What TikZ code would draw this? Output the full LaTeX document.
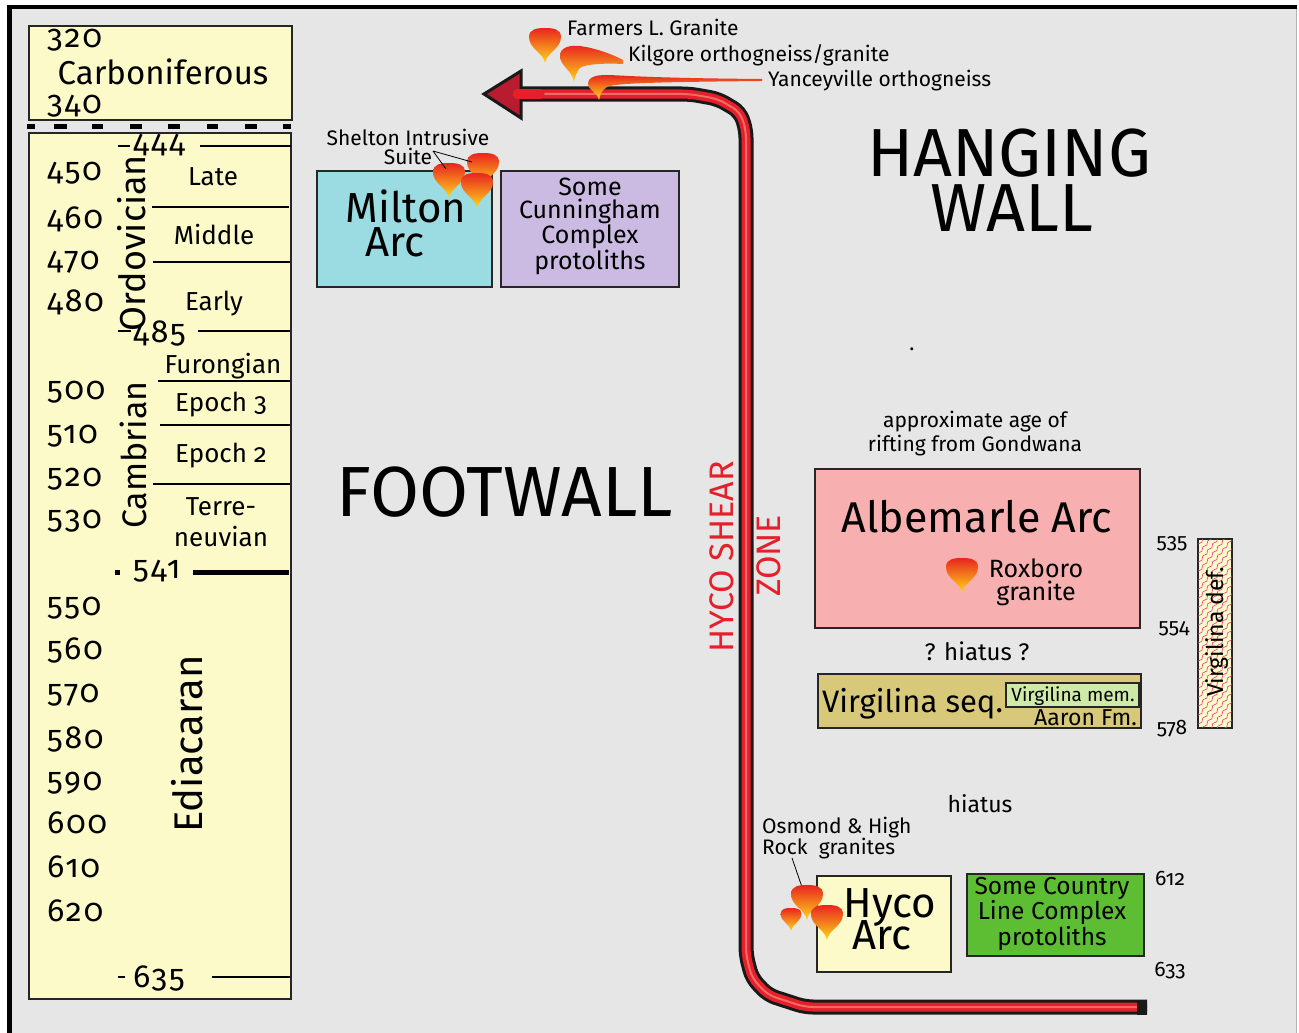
\documentclass[tikz,border=0pt]{standalone}
\usepackage{fontspec}
\setmainfont{Fira Sans}[Numbers=OldStyle]
\newfontfamily\agefont{Fira Sans}[Numbers=OldStyle, LetterSpace=6]
\usepackage{tikz}
\usetikzlibrary{decorations.pathmorphing}

\definecolor{bggray}{HTML}{E6E6E6}
\definecolor{cream}{HTML}{FCFAC8}
\definecolor{miltoncyan}{HTML}{9ADCE2}
\definecolor{lavender}{HTML}{CBBAE2}
\definecolor{albpink}{HTML}{F7AFAF}
\definecolor{khaki}{HTML}{D8C97A}
\definecolor{memgreen}{HTML}{CFEAA8}
\definecolor{clgreen}{HTML}{5DBE34}
\definecolor{shearred}{HTML}{E6202A}
\definecolor{shearlight}{HTML}{F26A66}
\definecolor{headred}{HTML}{B81C2E}
\definecolor{hatchpink}{HTML}{E8368F}
\definecolor{plutonred}{HTML}{E8251F}
\definecolor{plutonorange}{HTML}{F7851E}
\definecolor{plutonyellow}{HTML}{FFD81A}

\newcommand{\fsz}[2]{\fontsize{#1}{#2}\selectfont}

\tikzset{
  plutonfill/.style={top color=plutonred, middle color=plutonorange, bottom color=plutonyellow},
  pics/pluton/.style={code={
    \shade[plutonfill] (0,35) .. controls (-2,24) and (-16,21) .. (-16,9)
      .. controls (-16,1) and (-8,0) .. (0,0) .. controls (8,0) and (16,1) .. (16,9)
      .. controls (16,21) and (2,24) .. (0,35) -- cycle;
  }}
}

\begin{document}
\begin{tikzpicture}[x=1pt, y=-1pt,
  unit/.style={draw=black!85, line width=1.6pt, inner sep=0pt},
  age/.style={anchor=west, inner sep=0pt, font=\agefont\fsz{32}{32}},
  epoch/.style={inner sep=0pt, align=center, font=\fsz{26}{31}},
  period/.style={inner sep=0pt, rotate=90},
  tick/.style={line width=1.2pt},
  note/.style={inner sep=0pt, align=center, font=\fsz{21}{19}},
  arcname/.style={inner sep=0pt, font=\fsz{42}{42}},
  protolith/.style={inner sep=0pt, align=center, font=\fsz{24}{23}},
  big/.style={inner sep=0pt, font=\fsz{71}{71}},
  shearlbl/.style={inner sep=0pt, rotate=90, text=shearred, font=\fsz{34}{34}},
  sideage/.style={inner sep=0pt, font=\fsz{21}{21}},
  hatchline/.style={draw=hatchpink, line width=0.6pt, decorate,
    decoration={snake, amplitude=1pt, segment length=8pt}}]

\useasboundingbox (0,0) rectangle (1299,1033);
\fill[white] (0,0) rectangle (1299,1033);
\fill[bggray] (9,7) rectangle (1296,1033);
\draw[gray!60, line width=0.8pt] (1296,7) -- (1296,1033);
\draw[line width=4.5pt] (9.5,1033) -- (9.5,7) -- (1297,7);

% time scale column
\node[unit, fill=cream, minimum width=263, minimum height=94] (carbbox) at (160.5,73) {};
\node[unit, fill=cream, minimum width=262, minimum height=866] (column) at (160,566) {};
\foreach \x/\w in {27/8,54/13,92/11,130/12,168/12,207/11,245/12,283/8}
  \fill (\x,123.5) rectangle ++(\w,5);

\node[age] (a320) at (47,40) {320};
\node[inner sep=0pt, font=\fsz{33}{33}] (carb) at (163,72) {Carboniferous};
\node[age] (a340) at (47,106) {340};

\foreach \a/\y in {450/173, 460/219, 470/262, 480/302, 500/392, 510/436, 520/479, 530/521,
                   550/608, 560/651, 570/695, 580/740, 590/783, 600/823, 610/867, 620/911}
  \node[age] (a\a) at (47,\y) {\a};

\node[age] (a444) at (133,145) {444};
\node[age] (a485) at (133,334) {485};
\node[age] (a541) at (133,571) {541};
\node[age] (a635) at (133,978) {635};

\draw[tick] (118,146) -- (130,146) (200,146) -- (291,146);
\draw[tick] (152,207) -- (289,207);
\draw[tick] (153,262) -- (290,262);
\draw[tick] (118,331) -- (131,331) (198,331) -- (290,331);
\draw[tick] (158,381) -- (290,381);
\draw[tick] (160,425) -- (290,425);
\draw[tick] (153,484) -- (290,484);
\draw[line width=5pt] (115,572) -- (120,572) (193,572) -- (289,572);
\draw[tick] (118,977) -- (125,977) (212,977) -- (290,977);

\foreach \t/\x/\y in {Late/213/177, Middle/214/235, Early/214/304,
                      Furongian/223/366, Epoch 3/221/405, Epoch 2/221/456}
  \node[epoch] (ep\y) at (\x,\y) {\t};
\node[epoch] (terre) at (221,522) {Terre-\\neuvian};

\node[period, font=\fsz{36}{36}] (ordo) at (132,243) {Ordovician};
\node[period, font=\fsz{34}{34}] (camb) at (133,455) {Cambrian};
\node[period, font=\fsz{40}{40}] (edia) at (187,744) {Ediacaran};

% footwall units
\node[unit, fill=miltoncyan, minimum width=175, minimum height=116] (milton) at (404.5,229) {};
\node[arcname, anchor=base] (miltonlbl) at (406,222) {Milton};
\node[arcname, anchor=base] (miltonarc) at (395,256) {Arc};
\node[unit, fill=lavender, minimum width=178, minimum height=116] (cunning) at (590,229) {};
\node[protolith, font=\fsz{25}{23}] (cunninglbl) at (590,226) {Some\\Cunningham\\Complex\\protoliths};

\node[note] (shelton) at (408,147) {Shelton Intrusive\\Suite};
\coordinate (suitetip) at (433,151);
\coordinate (shA) at (446,169);
\coordinate (shB) at (472,162);

\node[big] (foot) at (505,492) {FOOTWALL};
\node[big, anchor=base, font=\fsz{68}{68}] (hang) at (1009,176) {HANGING};
\node[big, anchor=base, font=\fsz{68}{68}] (wall) at (1012,231) {WALL};
\node[note] (dot) at (912,349) {.};

% hyco shear zone
\foreach \w/\c in {15/black!90, 9/shearred, 2/shearlight}
  \draw[line width=\w pt, \c, rounded corners=8pt]
    (1147,1007) -- (805,1007) -- (768,995) -- (752,978) -- (746,955) -- (746,130)
    -- (740,112) -- (718,99) -- (690,94) -- (521,94);
\fill[black!90] (1137,999.5) rectangle (1147,1014.5);
\draw[line width=3pt, black!90, fill=headred, line join=miter] (484,94) -- (521,71) -- (521,118) -- cycle;
\draw[line width=9pt, shearred, line cap=round] (540,94) -- (517,94);

\node[shearlbl] (hyco) at (722,557) {HYCO SHEAR};
\node[shearlbl] (zone) at (769,556) {ZONE};

% plutons
\pic at (449,163) {pluton};
\pic at (483,153) {pluton};
\pic at (477,173) {pluton};
\draw[line width=0.8pt] (suitetip) -- (shA) (suitetip) -- (shB);

\pic at (545,28) {pluton};
\shade[plutonfill] (574,82) .. controls (572,70) and (560,66) .. (560,56)
  .. controls (560,47) and (570,45) .. (580,46) .. controls (595,48) and (612,54) .. (623,60)
  -- (623,64) .. controls (605,63) and (585,64) .. (580,68)
  .. controls (577,71) and (575,76) .. (574,82) -- cycle;
\shade[plutonfill] (599,100) .. controls (597,92) and (588,90) .. (588,84)
  .. controls (588,77) and (596,75) .. (606,75) .. controls (620,75) and (640,78) .. (762,79)
  -- (762,81) .. controls (660,82) and (615,83) .. (607,87)
  .. controls (602,90) and (600,95) .. (599,100) -- cycle;
\node[note, anchor=west] (farmers) at (567,27) {Farmers L. Granite};
\node[note, anchor=west] (kilgore) at (628,55) {Kilgore orthogneiss/granite};
\node[note, anchor=west] (yancey) at (768,81) {Yanceyville orthogneiss};

% hanging wall units
\node[note, font=\fsz{21}{24}] (rift) at (975,434) {approximate age of\\rifting from Gondwana};
\node[unit, fill=albpink, minimum width=325, minimum height=159] (albemarle) at (977.5,548.5) {};
\node[inner sep=0pt, font=\fsz{43}{43}] (albemarlelbl) at (977,517) {Albemarle Arc};
\pic at (962,558) {pluton};
\node[protolith, font=\fsz{25}{23}] (roxboro) at (1036,582) {Roxboro\\granite};
\node[inner sep=0pt, font=\fsz{24}{24}] (hiatusq) at (977,651) {? hiatus ?};

\node[unit, fill=khaki, minimum width=323, minimum height=54] (virgseq) at (979.5,701) {};
\node[inner sep=0pt, anchor=base west, font=\fsz{31}{31}] (virgseqlbl) at (822,712) {Virgilina seq.};
\node[unit, fill=memgreen, line width=1.2pt, minimum width=133, minimum height=24] (virgmem) at (1072.5,695) {};
\node[inner sep=0pt, anchor=base, font=\fsz{19}{19}] (virgmemlbl) at (1073,701) {Virgilina mem.};
\node[inner sep=0pt, anchor=base east, font=\fsz{23}{23}] (aaron) at (1137,725) {Aaron Fm.};

\node[unit, fill=cream, line width=1.2pt, minimum width=34, minimum height=189] (virgdef) at (1215,633.5) {};
\begin{scope}
  \clip (virgdef.south west) rectangle (virgdef.north east);
  \foreach \k in {0,...,28}
    \draw[hatchline] (1192,535+\k*9) -- ++(48,-60);
\end{scope}
\draw[line width=1.2pt, black!85] (virgdef.south west) rectangle (virgdef.north east);
\node[period, anchor=base, font=\fsz{23}{23}] (virgdeflbl) at (1223,632) {Virgilina def.};

\node[sideage] (s535) at (1172,544) {535};
\node[sideage] (s554) at (1174,629) {554};
\node[sideage] (s578) at (1172,729) {578};
\node[sideage] (s612) at (1170,878) {612};
\node[sideage] (s633) at (1170,971) {633};

\node[inner sep=0pt, font=\fsz{23}{23}] (hiatus) at (980,804) {hiatus};

\node[note, align=left, anchor=west] (osmond) at (762,838) {Osmond \& High\\Rock\ \ granites};
\coordinate (osmtip) at (792,858);
\coordinate (osmpl) at (803,890);
\draw[line width=0.8pt] (osmtip) -- (osmpl);
\node[unit, fill=cream, minimum width=134, minimum height=96] (hycoarc) at (884,924) {};
\pic at (807,885) {pluton};
\pic[scale=0.65] at (791,908) {pluton};
\pic at (827,905) {pluton};
\node[arcname, anchor=base] (hycolbl) at (890,917) {Hyco};
\node[arcname, anchor=base] (hycoarclbl) at (882,949) {Arc};
\node[unit, fill=clgreen, minimum width=177, minimum height=82] (cline) at (1055.5,915) {};
\node[protolith, font=\fsz{24.5}{22.5}] (clinelbl) at (1052,914) {Some Country\\Line Complex\\protoliths};
\end{tikzpicture}
\end{document}
